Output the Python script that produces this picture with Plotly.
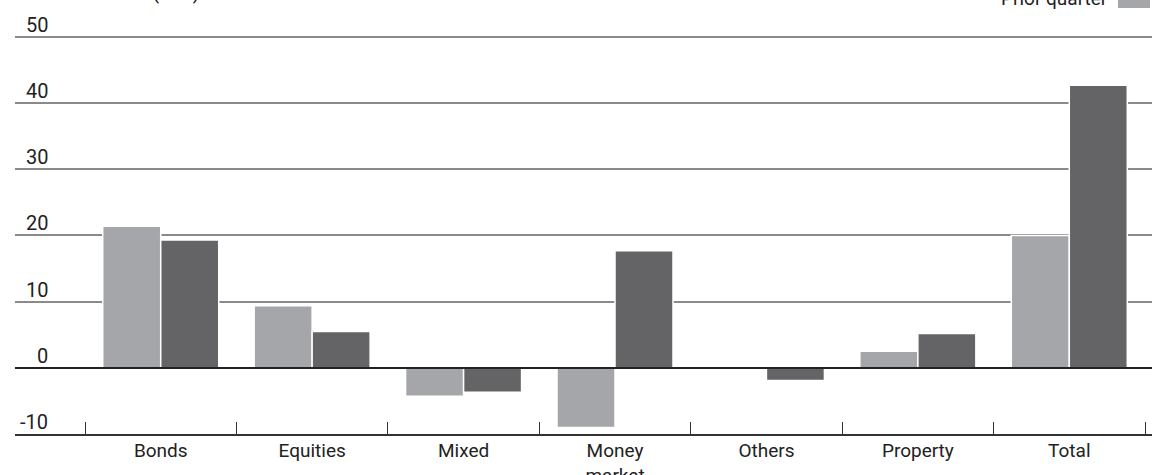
import plotly.graph_objects as go

categories = ["Bonds", "Equities", "Mixed", "Money<br>market", "Others", "Property", "Total"]
prior_quarter = [21.4, 9.4, -4.3, -9.0, 0.0, 2.5, 20.0]
latest_quarter = [19.3, 5.5, -3.7, 17.7, -1.9, 5.2, 42.7]
y_ticks = [-10, 0, 10, 20, 30, 40, 50]
y_tick_text = ["-10", "0", "10", "20", "30", "40", "50"]

FONT = "Roboto, Liberation Sans, sans-serif"
TXT = "#222222"
C_PRIOR = "#a5a6aa"
C_LATEST = "#646466"

W, H = 1152, 475
L_MARGIN = 15
PLOT_W = W - L_MARGIN
Y_TOP = 50.3
T_MARGIN = 35
B_MARGIN = 41
PLOT_H = H - T_MARGIN - B_MARGIN


def px_x(p):
    return (p - L_MARGIN) / PLOT_W


fig = go.Figure()
fig.add_trace(go.Bar(x=categories, y=prior_quarter, name="Prior quarter",
                     marker=dict(color=C_PRIOR, line=dict(color="white", width=1.5))))
fig.add_trace(go.Bar(x=categories, y=latest_quarter, name="Latest quarter",
                     marker=dict(color=C_LATEST, line=dict(color="white", width=1.5))))

annotations = []
for v, t in zip(y_ticks, y_tick_text):
    annotations.append(dict(x=px_x(50), xref="paper", xanchor="right",
                            y=v, yref="y", yanchor="bottom", yshift=-2,
                            text=t, showarrow=False,
                            font=dict(family=FONT, size=20, color=TXT)))
# title, cut off at the top of the picture
annotations.append(dict(x=px_x(202), xref="paper", xanchor="right",
                        y=1, yref="paper", yanchor="bottom", yshift=T_MARGIN - 6,
                        text="Net sales (€bn)", showarrow=False,
                        font=dict(family=FONT, size=20, color=TXT)))
# legend entry (custom, square on the right of the text)
annotations.append(dict(x=px_x(1110), xref="paper", xanchor="right",
                        y=1, yref="paper", yanchor="bottom", yshift=T_MARGIN - 12,
                        text="Prior quarter", showarrow=False,
                        font=dict(family=FONT, size=19, color=TXT)))

shapes = [dict(type="rect", xref="paper", yref="paper",
               x0=px_x(1118), x1=px_x(1150),
               y0=1 + (T_MARGIN - 8) / PLOT_H, y1=1 + (T_MARGIN + 10) / PLOT_H,
               fillcolor=C_PRIOR, line=dict(width=0))]

fig.update_layout(
    width=W, height=H,
    margin=dict(l=L_MARGIN, r=0, t=T_MARGIN, b=B_MARGIN, pad=0, autoexpand=False),
    paper_bgcolor="white", plot_bgcolor="white",
    barmode="group", bargap=0.234, bargroupgap=0,
    showlegend=False,
    font=dict(family=FONT, size=19, color=TXT),
    annotations=annotations,
    shapes=shapes,
    xaxis=dict(type="category", range=[-0.9623, 6.5462], automargin=False,
               tickson="boundaries", ticks="inside", ticklen=12,
               tickcolor="#333333", tickwidth=1.2,
               showline=True, linecolor="#333333", linewidth=2,
               showgrid=False, tickfont=dict(family=FONT, size=19, color=TXT),
               ticklabelstandoff=-2, fixedrange=True),
    yaxis=dict(range=[-10, Y_TOP], tickvals=y_ticks, showticklabels=False,
               automargin=False,
               showgrid=True, gridcolor="#8a8a8a", gridwidth=2,
               zeroline=True, zerolinecolor="#222222", zerolinewidth=2,
               zerolinelayer="above traces",
               showline=False, ticks="", fixedrange=True),
)

fig.write_html("out.html")
